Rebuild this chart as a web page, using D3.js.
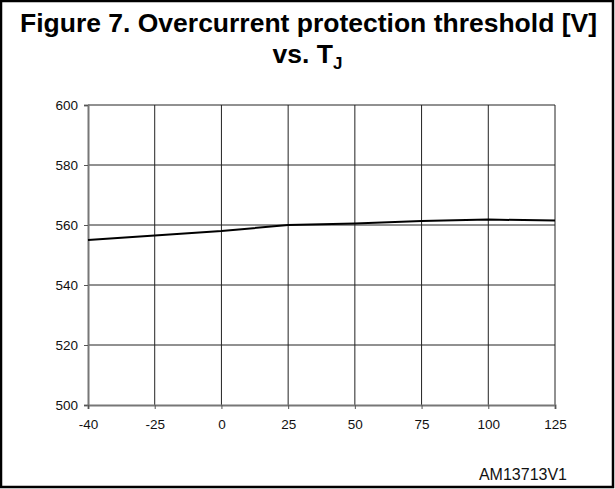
<!DOCTYPE html>
<html>
<head>
<meta charset="utf-8">
<script src="https://cdn.jsdelivr.net/npm/d3@7"></script>
<style>
  body { margin: 0; background: #fff; }
  text { font-family: "Liberation Sans", Arial, sans-serif; }
</style>
</head>
<body>
<svg id="chart" width="615" height="489"></svg>
<script>
// x categories (equally spaced on the axis, like an Excel line chart)
const tempLabels = ['-40', '-25', '0', '25', '50', '75', '100', '125'];
// overcurrent protection threshold
const thresholdValues = [555, 556.5, 558, 560, 560.5, 561.3, 561.8, 561.5];
const yTicks = [500, 520, 540, 560, 580, 600];

const svg = d3.select('#chart');
const W = 615, H = 489;

// outer frame
svg.append('rect')
    .attr('x', 1).attr('y', 1)
    .attr('width', W - 3).attr('height', H - 3)
    .attr('fill', 'none')
    .attr('stroke', '#000')
    .attr('stroke-width', 2.5);

// title
svg.append('text')
    .attr('x', W / 2 + 1).attr('y', 32)
    .attr('text-anchor', 'middle')
    .attr('font-size', '26.5px')
    .attr('font-weight', 'bold')
    .attr('textLength', 577)
    .attr('lengthAdjust', 'spacingAndGlyphs')
    .text('Figure 7. Overcurrent protection threshold [V]');

let t2 = svg.append('text')
    .attr('x', W / 2).attr('y', 63)
    .attr('text-anchor', 'middle')
    .attr('font-size', '26.5px')
    .attr('font-weight', 'bold');
t2.append('tspan').text('vs. T');
t2.append('tspan').attr('font-size', '17px').attr('dy', 6).text('J');

const plotLeft = 88, plotRight = 555, plotTop = 105, plotBottom = 405;

const x = d3.scalePoint()
    .domain(tempLabels)
    .range([plotLeft, plotRight]);

const y = d3.scaleLinear()
    .domain([500, 600])
    .range([plotBottom, plotTop]);

// horizontal grid
svg.append('g')
    .selectAll('line')
    .data(yTicks.filter(d => d > 500))
    .join('line')
    .attr('x1', plotLeft).attr('x2', plotRight)
    .attr('y1', d => y(d)).attr('y2', d => y(d))
    .attr('stroke', '#222')
    .attr('stroke-width', 1);

// vertical grid
svg.append('g')
    .selectAll('line')
    .data(tempLabels.slice(1))
    .join('line')
    .attr('x1', d => x(d)).attr('x2', d => x(d))
    .attr('y1', plotTop).attr('y2', plotBottom)
    .attr('stroke', '#222')
    .attr('stroke-width', 1);

// axes
let yAxis = svg.append('g')
    .attr('transform', 'translate(' + plotLeft + ',0)')
    .call(d3.axisLeft(y).tickValues(yTicks).tickSize(4).tickPadding(6).tickFormat(d3.format('d')));
let xAxis = svg.append('g')
    .attr('transform', 'translate(0,' + plotBottom + ')')
    .call(d3.axisBottom(x).tickSize(4).tickPadding(10));

[yAxis, xAxis].forEach(a => {
    a.select('.domain').attr('stroke', '#777').attr('stroke-width', 2);
    a.selectAll('.tick line').attr('stroke', '#555');
    a.selectAll('.tick text')
        .attr('font-size', '13.5px')
        .attr('fill', '#111')
        .style('font-family', '"Liberation Sans", Arial, sans-serif');
});

// data line
svg.append('path')
    .datum(thresholdValues)
    .attr('fill', 'none')
    .attr('stroke', '#000')
    .attr('stroke-width', 2)
    .attr('d', d3.line()
        .x((d, i) => x(tempLabels[i]))
        .y(d => y(d)));

// figure code
svg.append('text')
    .attr('x', 567).attr('y', 480)
    .attr('text-anchor', 'end')
    .attr('font-size', '16px')
    .attr('fill', '#111')
    .text('AM13713V1');
</script>
</body>
</html>
